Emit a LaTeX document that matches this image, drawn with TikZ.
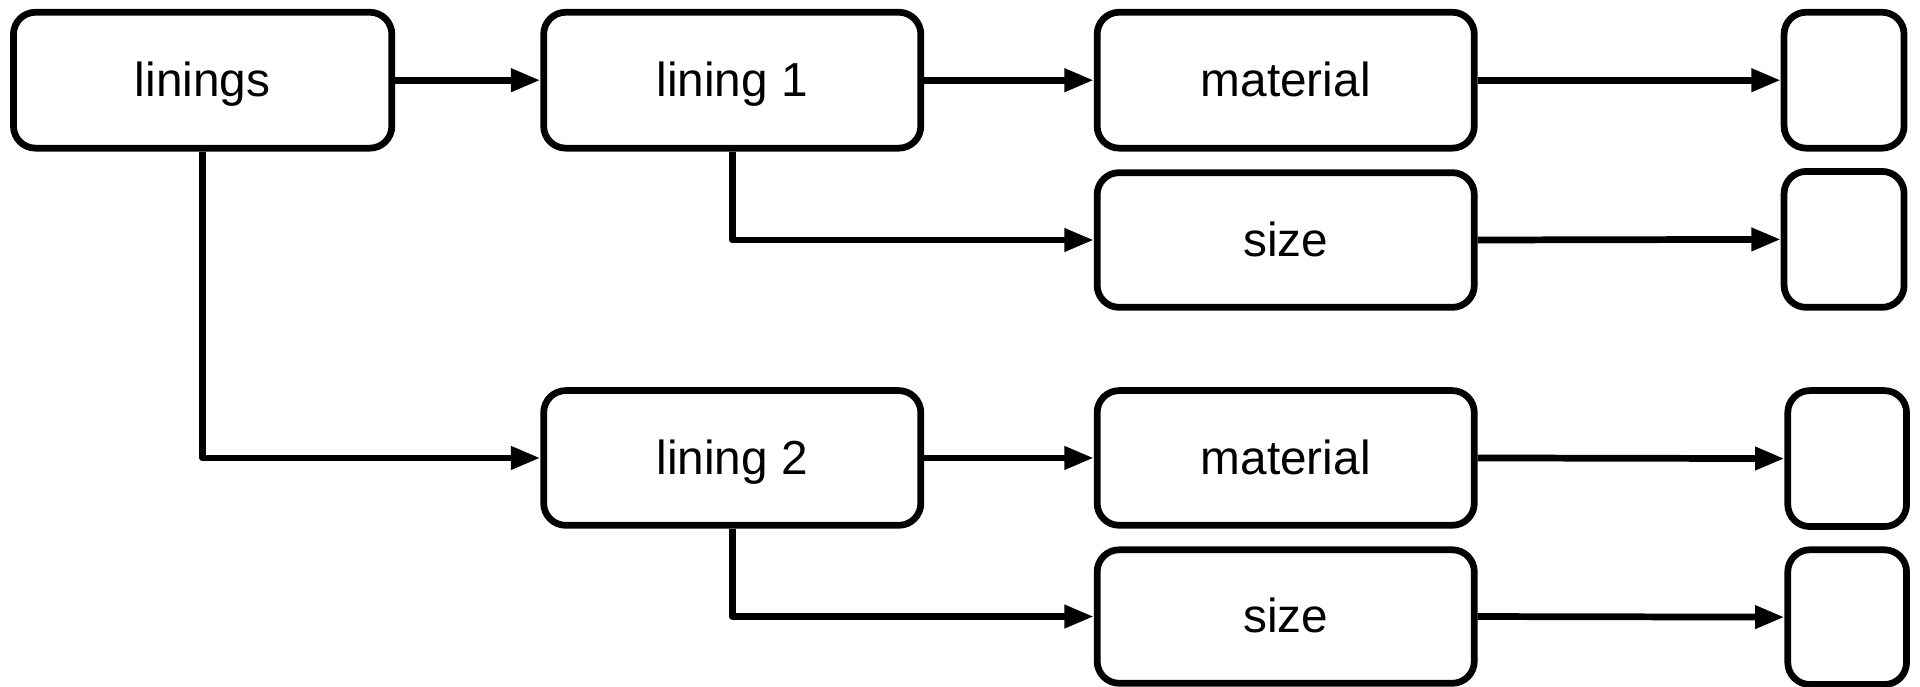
\documentclass[tikz,border=0pt]{standalone}
\usepackage{fontspec}
\setmainfont{Liberation Sans}
\usetikzlibrary{arrows.meta}
\begin{document}
\begin{tikzpicture}[x=1pt,y=-1pt,
  box/.style={draw=black, line width=5.5pt, rounded corners=18pt, rectangle,
    inner sep=0pt, text height=26.5pt, text depth=0pt,
    font=\fontsize{39}{46}\selectfont},
  arr/.style={line width=5.5pt, line join=round,
    -{Triangle[length=24pt,width=18pt]}}]
\useasboundingbox (0,0) rectangle (1568,561);
\node[box, minimum width=309pt, minimum height=111pt] (linings) at (165.5,65.5) {linings};
\node[box, minimum width=308pt, minimum height=111pt] (lining1) at (598,65.5) {lining 1};
\node[box, minimum width=308pt, minimum height=111pt] (material1) at (1050,65.5) {material};
\node[box, minimum width=308pt, minimum height=110pt] (size1) at (1050,196) {size};
\node[box, minimum width=98pt, minimum height=111pt] (small1) at (1506,65.5) {};
\node[box, minimum width=98pt, minimum height=111pt] (small2) at (1506,195.5) {};
\node[box, minimum width=308pt, minimum height=110pt] (lining2) at (598,374) {lining 2};
\node[box, minimum width=308pt, minimum height=110pt] (material2) at (1050,374) {material};
\node[box, minimum width=308pt, minimum height=109pt] (size2) at (1050,503.5) {size};
\node[box, minimum width=97pt, minimum height=111pt] (small3) at (1508.5,374.5) {};
\node[box, minimum width=97pt, minimum height=110pt] (small4) at (1508.5,504) {};
\draw[arr] (linings.east) -- (lining1.west);
\draw[arr] (lining1.east) -- (material1.west);
\draw[arr] (material1.east) -- (small1.west);
\draw[arr] (lining1.south) |- (size1.west);
\draw[arr] (size1.east) -- (small2.west);
\draw[arr] (linings.south) |- (lining2.west);
\draw[arr] (lining2.east) -- (material2.west);
\draw[arr] (material2.east) -- (small3.west);
\draw[arr] (lining2.south) |- (size2.west);
\draw[arr] (size2.east) -- (small4.west);
\end{tikzpicture}
\end{document}
